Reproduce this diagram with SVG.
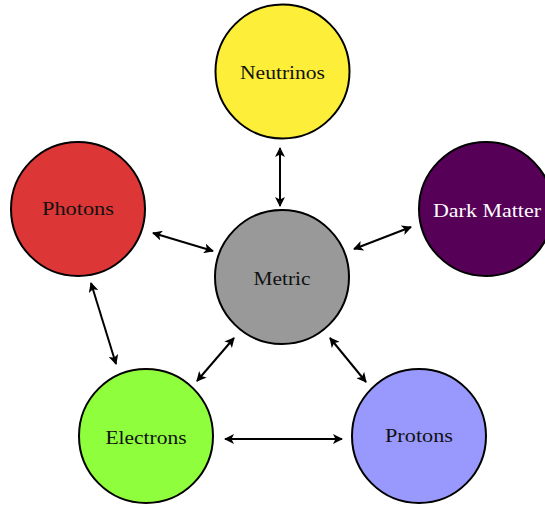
<svg xmlns="http://www.w3.org/2000/svg" width="545" height="505" viewBox="0 0 545 505">
<defs>
<marker id="ah" viewBox="0 0 10 10" refX="9" refY="5" markerWidth="5" markerHeight="5" markerUnits="strokeWidth" orient="auto-start-reverse">
<path d="M0,0 L10,5 L0,10 L2.5,5 Z" fill="#000"/>
</marker>
</defs>
<style>
.node circle{stroke:#000;stroke-width:2}
.node text{font-family:"Liberation Serif","DejaVu Serif",serif;font-size:18px;fill:#111;text-anchor:middle}
#connectors line{stroke:#000;stroke-width:2;marker-start:url(#ah);marker-end:url(#ah)}
</style>
<rect width="545" height="505" fill="#fff"/>
<g id="connectors">
<line x1="280" y1="148" x2="280" y2="206"/>
<line x1="153" y1="233" x2="213" y2="251"/>
<line x1="354" y1="249" x2="411" y2="227"/>
<line x1="234" y1="338" x2="197" y2="381"/>
<line x1="330" y1="338" x2="366" y2="382"/>
<line x1="91" y1="283" x2="116" y2="364"/>
<line x1="225" y1="439" x2="342" y2="439"/>
</g>
<g id="neutrinos" class="node"><circle cx="282.5" cy="71.5" r="67" fill="#FDEE3A"/><text x="282.5" y="79" textLength="85" lengthAdjust="spacingAndGlyphs">Neutrinos</text></g>
<g id="photons" class="node"><circle cx="78" cy="209" r="67" fill="#DD3636"/><text x="78" y="215" textLength="72" lengthAdjust="spacingAndGlyphs">Photons</text></g>
<g id="darkmatter" class="node"><circle cx="486" cy="209" r="67" fill="#570057"/><text x="487" y="217" textLength="108" lengthAdjust="spacingAndGlyphs" style="fill:#fff">Dark Matter</text></g>
<g id="metric" class="node"><circle cx="282" cy="277" r="67" fill="#999999"/><text x="282" y="285" textLength="57" lengthAdjust="spacingAndGlyphs">Metric</text></g>
<g id="electrons" class="node"><circle cx="146" cy="436" r="67" fill="#8FFE3C"/><text x="146" y="444" textLength="81" lengthAdjust="spacingAndGlyphs">Electrons</text></g>
<g id="protons" class="node"><circle cx="419" cy="436" r="67" fill="#9999FD"/><text x="419" y="442" textLength="68" lengthAdjust="spacingAndGlyphs">Protons</text></g>
</svg>
